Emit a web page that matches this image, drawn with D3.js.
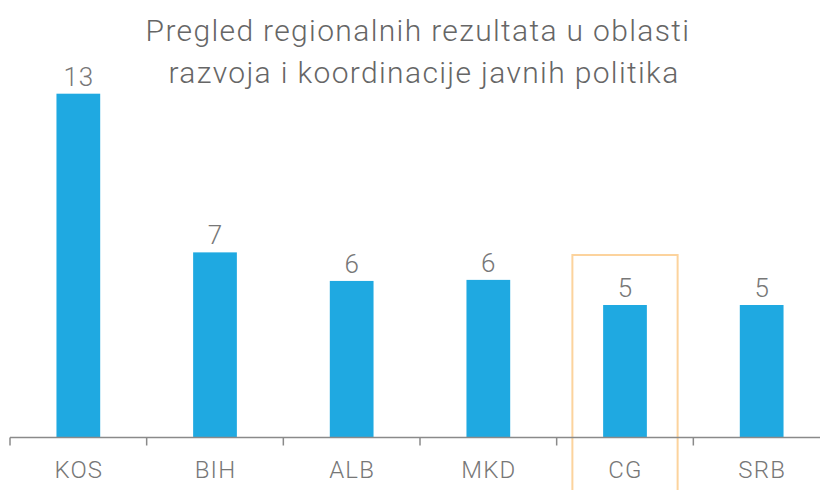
<!DOCTYPE html>
<html>
<head>
<meta charset="utf-8">
<script src="https://cdn.jsdelivr.net/npm/d3@7"></script>
<style>
	html, body { margin: 0; padding: 0; background: #fff; }
	#chart text { font-family: 'Roboto', 'Liberation Sans', sans-serif; font-weight: 300; }
</style>
</head>
<body>
<div id="chart"></div>
<script>
// data
const categories = ['KOS', 'BIH', 'ALB', 'MKD', 'CG', 'SRB'];
const values = [13, 7, 5.92, 5.96, 5.01, 5.01];
const titleLines = ['Pregled regionalnih rezultata u oblasti', 'razvoja i koordinacije javnih politika'];
const highlight = 'CG';

const config = {
	width: 820,
	height: 490,
	baseline: 437.5,
	barColour: '#1fa9e1',
	axisColour: '#8a8a8a',
	textColour: '#777',
	highlightColour: '#fcd39d'
};

const svg = d3.select('#chart')
	.append('svg')
	.attr('width', config.width)
	.attr('height', config.height);

// scales
const x = d3.scaleBand()
	.domain(categories)
	.range([10, 830])
	.padding(0);

const y = d3.scaleLinear()
	.domain([0, 13])
	.range([config.baseline, 93.7]);

const barWidth = x.bandwidth() * 0.32;
const centre = c => x(c) + x.bandwidth() / 2;

// title
svg.append('g')
	.selectAll('text')
	.data(titleLines)
	.enter()
	.append('text')
		.attr('x', (d, i) => i === 0 ? 418 : 424)
		.attr('y', (d, i) => 41 + i * 42)
		.attr('text-anchor', 'middle')
		.attr('fill', '#666')
		.style('font-size', '30px')
		.style('letter-spacing', '1.35px')
		.text(d => d);

// highlight box around CG
const hlIndex = categories.indexOf(highlight);
svg.append('rect')
	.attr('x', centre(highlight) - x.bandwidth() * 0.385)
	.attr('y', y(values[hlIndex]) - 50)
	.attr('width', x.bandwidth() * 0.77)
	.attr('height', config.height)
	.attr('fill', 'none')
	.attr('stroke', config.highlightColour)
	.attr('stroke-width', 2);

// bars
svg.append('g')
	.selectAll('rect')
	.data(categories)
	.enter()
	.append('rect')
		.attr('x', c => centre(c) - barWidth / 2)
		.attr('y', (c, i) => y(values[i]))
		.attr('width', barWidth)
		.attr('height', (c, i) => y(0) - y(values[i]))
		.attr('fill', config.barColour);

// value labels
svg.append('g')
	.selectAll('text')
	.data(categories)
	.enter()
	.append('text')
		.attr('x', c => centre(c) + 0.5)
		.attr('y', (c, i) => y(values[i]) - 8)
		.attr('text-anchor', 'middle')
		.attr('fill', config.textColour)
		.style('font-size', '26px')
		.style('letter-spacing', '1px')
		.text((c, i) => d3.format('.0f')(values[i]));

// axis line + ticks at band edges
const axis = svg.append('g');
axis.append('line')
	.attr('x1', x(categories[0]))
	.attr('x2', config.width)
	.attr('y1', y(0))
	.attr('y2', y(0))
	.attr('stroke', config.axisColour)
	.attr('stroke-width', 1.5);

axis.selectAll('.tick')
	.data(categories)
	.enter()
	.append('line')
		.attr('class', 'tick')
		.attr('x1', c => x(c))
		.attr('x2', c => x(c))
		.attr('y1', y(0))
		.attr('y2', y(0) + 8)
		.attr('stroke', config.axisColour)
		.attr('stroke-width', 1.5);

axis.selectAll('.label')
	.data(categories)
	.enter()
	.append('text')
		.attr('class', 'label')
		.attr('x', c => centre(c) + 0.5)
		.attr('y', 477.5)
		.attr('text-anchor', 'middle')
		.attr('fill', config.textColour)
		.style('font-size', '24px')
		.style('letter-spacing', '1.2px')
		.text(c => c);
</script>
</body>
</html>
